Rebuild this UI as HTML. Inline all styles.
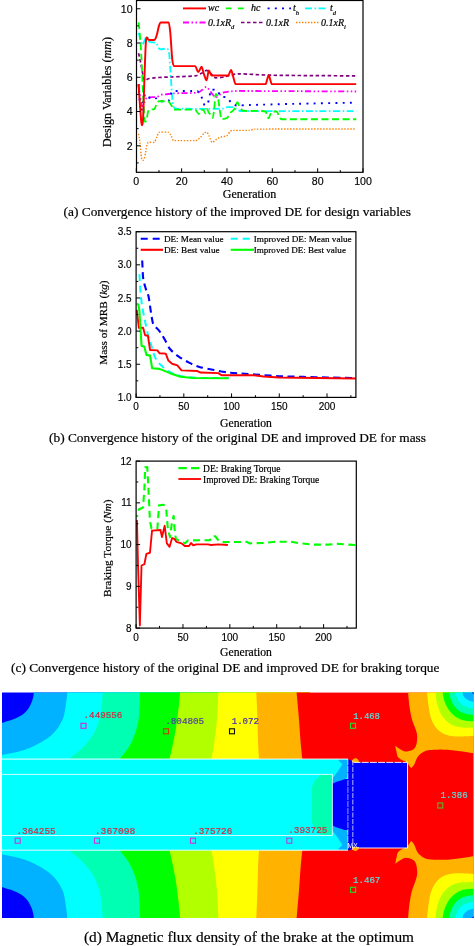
<!DOCTYPE html>
<html><head><meta charset="utf-8"><title>Figure</title>
<style>html,body{margin:0;padding:0;background:#fff}svg{display:block}</style></head>
<body><svg width="475" height="946" viewBox="0 0 475 946">
<rect width="475" height="946" fill="#fff"/>
<g id="chartA">
<path d="M138.57 133.80 C139.02 136.63 139.48 138.71 139.93 142.36 C140.41 146.32 140.99 154.81 141.51 157.78 C142.04 160.75 142.58 160.35 143.10 160.35 C143.66 160.35 144.32 158.47 144.91 156.07 C145.51 153.67 146.17 148.05 146.73 145.79 C147.25 143.68 147.79 142.62 148.32 142.36 C149.59 141.74 153.05 142.87 154.44 142.02 C155.18 141.56 155.95 138.72 156.70 137.22 C157.53 135.59 158.53 132.09 159.42 132.09 C161.29 132.09 166.13 132.09 168.04 132.09 C169.01 132.09 170.05 134.10 170.99 135.51 C171.88 136.87 172.81 140.65 173.71 140.65 C177.71 140.65 190.94 140.65 195.24 140.65 C196.74 140.65 198.28 139.35 199.78 138.08 C201.27 136.81 203.19 133.93 204.31 132.94 C205.06 132.28 205.83 132.09 206.58 132.09 C207.33 132.09 208.10 134.16 208.84 135.51 C209.78 137.21 211.12 142.36 212.24 142.36 C213.37 142.36 214.52 140.52 215.65 139.79 C216.95 138.95 218.68 137.79 220.18 137.22 C222.05 136.52 225.30 136.50 226.98 135.51 C228.10 134.85 229.26 132.08 230.38 131.23 C231.50 130.38 232.66 130.37 233.78 130.37 C236.96 130.37 246.28 130.37 249.65 130.37 C251.15 130.37 252.69 129.19 254.18 129.17 C271.76 128.95 322.53 129.06 356.20 129.00" fill="none" stroke="#ff8000" stroke-width="1.4" stroke-dasharray="1.4 1.6" stroke-linejoin="round"/>
<path d="M138.57 53.29 C139.32 56.68 140.09 59.89 140.83 63.57 C141.58 67.24 142.35 72.73 143.10 75.56 C143.85 78.38 144.62 80.70 145.37 80.70 C146.12 80.70 146.89 79.22 147.64 78.98 C149.13 78.50 152.19 77.99 154.44 77.78 C158.18 77.44 165.07 77.17 170.31 76.93 C177.04 76.62 190.01 76.55 195.24 75.90 C197.49 75.62 200.17 73.89 202.04 72.99 C203.54 72.26 205.08 70.42 206.58 70.42 C208.07 70.42 209.61 72.63 211.11 73.84 C212.61 75.06 214.15 77.78 215.65 77.78 C217.52 77.78 220.20 77.64 222.45 77.27 C224.69 76.90 227.00 76.04 229.25 75.56 C231.87 74.99 235.32 73.84 238.31 73.84 C245.42 73.84 261.10 75.02 272.32 75.21 C291.77 75.55 328.52 75.67 356.20 75.90" fill="none" stroke="#800080" stroke-width="1.7" stroke-dasharray="3.5 2.5" stroke-linejoin="round"/>
<path d="M138.57 85.83 C139.17 89.79 139.78 94.43 140.38 97.83 C140.98 101.22 141.60 106.39 142.19 106.39 C142.83 106.39 143.56 104.25 144.23 102.96 C144.95 101.61 145.75 98.91 146.50 98.17 C147.44 97.24 148.78 97.44 149.90 97.31 C151.59 97.11 154.83 97.39 156.70 96.97 C158.20 96.63 159.74 95.17 161.24 94.74 C162.73 94.32 164.27 94.58 165.77 94.40 C167.64 94.17 170.33 93.49 172.57 93.37 C177.81 93.09 192.65 93.22 197.51 92.69 C199.01 92.52 200.58 91.08 202.04 90.12 C203.46 89.18 205.04 86.86 206.35 86.86 C207.55 86.86 208.82 89.59 209.98 90.97 C211.10 92.31 212.41 94.18 213.38 95.26 C214.20 96.17 215.12 97.48 215.87 97.48 C216.54 97.48 217.24 96.59 217.91 96.11 C218.62 95.60 219.43 94.91 220.18 94.40 C221.00 93.83 222.00 92.93 222.90 92.69 C224.77 92.18 228.97 91.60 231.51 91.32 C233.76 91.07 236.07 90.97 238.31 90.97 C258.89 90.97 317.30 91.32 356.20 91.49" fill="none" stroke="#ff00ff" stroke-width="1.8" stroke-dasharray="6 2.5 1.5 2.5 1.5 2.5" stroke-linejoin="round"/>
<path d="M138.57 32.73 C139.17 34.99 139.78 37.61 140.38 39.58 C140.98 41.56 141.60 44.72 142.19 44.72 C142.83 44.72 143.56 42.54 144.23 41.30 C144.98 39.91 145.91 36.33 146.73 36.33 C147.55 36.33 148.40 41.22 149.22 41.81 C150.76 42.91 154.34 41.82 156.02 43.01 C157.15 43.80 158.30 48.37 159.42 49.01 C161.52 50.19 166.92 46.95 168.72 50.20 C169.24 51.15 169.78 61.77 170.31 68.70 C170.94 77.13 171.82 94.75 172.57 101.25 C173.32 107.75 174.09 107.50 174.84 108.10 C176.34 109.32 179.40 108.55 181.64 108.62 C186.50 108.76 197.58 108.96 204.31 108.96 C210.29 108.96 218.56 108.93 222.45 108.62 C224.24 108.47 226.17 107.08 227.89 107.08 C229.53 107.08 231.42 107.08 232.87 107.08 C234.15 107.08 235.46 109.05 236.73 109.65 C238.19 110.32 240.07 111.19 241.72 111.19 C247.59 111.19 262.22 111.19 272.32 111.19 C291.21 111.19 328.52 111.19 356.20 111.19" fill="none" stroke="#00ffff" stroke-width="1.8" stroke-dasharray="7 2.5 1.5 2.5" stroke-linejoin="round"/>
<path d="M138.57 84.12 C138.94 89.77 139.33 97.48 139.70 101.25 C140.15 105.77 140.76 111.53 141.29 111.53 C141.85 111.53 142.50 103.76 143.10 101.25 C143.77 98.43 144.62 94.40 145.37 94.40 C146.12 94.40 146.89 97.83 147.64 97.83 C149.13 97.83 152.57 96.97 154.44 96.97 C155.93 96.97 157.47 101.25 158.97 101.25 C161.21 101.25 165.79 101.25 168.04 101.25 C169.53 101.25 171.08 90.97 172.57 90.97 C177.43 90.97 193.21 90.97 197.51 90.97 C197.88 90.97 198.27 92.61 198.64 93.20 C199.47 94.50 201.49 96.82 202.50 98.85 C203.24 100.36 204.02 105.53 204.76 105.53 C205.66 105.53 207.15 104.49 207.94 102.96 C208.46 101.95 209.00 98.46 209.52 96.28 C210.05 94.11 210.59 89.77 211.11 89.77 C212.38 89.77 215.66 89.21 217.23 90.29 C218.35 91.06 219.51 95.46 220.63 96.28 C222.28 97.50 225.41 96.55 227.21 97.65 C228.63 98.53 230.09 101.87 231.51 102.96 C233.20 104.27 235.46 105.53 237.41 105.53 C240.40 105.53 245.61 105.14 249.65 105.02 C259.15 104.74 280.03 104.16 294.99 103.82 C312.57 103.43 336.00 103.02 356.20 102.62" fill="none" stroke="#0000ff" stroke-width="1.9" stroke-dasharray="1.9 5.3" stroke-linejoin="round"/>
<path d="M138.57 22.45 C138.94 25.85 139.33 28.26 139.70 32.73 C140.15 38.10 140.76 45.50 141.29 55.00 C141.85 65.18 142.50 83.38 143.10 94.40 C143.70 105.42 144.35 121.81 144.91 121.81 C145.44 121.81 145.98 121.79 146.50 120.09 C147.03 118.40 147.56 113.17 148.09 111.53 C148.65 109.78 149.30 109.72 149.90 109.47 C150.95 109.05 153.31 109.89 154.44 108.96 C155.18 108.34 155.95 105.09 156.70 103.82 C157.45 102.55 158.22 101.25 158.97 101.25 C160.84 101.25 165.98 101.25 168.04 101.25 C169.16 101.25 170.50 104.18 171.44 105.53 C172.19 106.62 172.96 109.34 173.71 109.47 C177.63 110.18 191.09 109.05 195.24 109.82 C196.44 110.04 197.90 114.10 198.87 114.10 C199.62 114.10 200.39 109.82 201.14 109.82 C201.88 109.82 202.73 109.82 203.40 109.82 C204.00 109.82 204.62 113.24 205.22 113.24 C205.82 113.24 206.43 108.96 207.03 108.96 C207.63 108.96 208.25 111.85 208.84 112.73 C209.52 113.72 210.48 114.11 211.11 114.96 C211.63 115.65 212.21 117.87 212.70 117.87 C213.15 117.87 213.61 113.21 214.06 109.82 C214.58 105.86 215.27 93.89 215.87 93.89 C216.47 93.89 217.16 94.67 217.69 96.46 C218.13 97.98 218.60 102.04 219.05 104.68 C219.68 108.41 220.72 119.07 221.54 119.07 C222.85 119.07 225.52 119.09 226.98 118.04 C228.10 117.23 229.26 114.09 230.38 112.73 C231.50 111.37 232.66 111.51 233.78 109.82 C234.94 108.06 236.47 102.11 237.41 102.11 C238.08 102.11 238.78 105.33 239.45 106.39 C240.35 107.80 241.73 110.45 242.85 110.67 C247.15 111.52 261.29 110.26 265.52 111.53 C266.49 111.82 267.53 118.38 268.47 118.38 C269.36 118.38 270.29 113.12 271.19 112.39 C272.57 111.26 275.54 111.53 276.85 111.53 C277.60 111.53 278.37 115.40 279.12 116.67 C279.87 117.94 280.64 119.24 281.39 119.24 C294.11 119.24 331.51 119.24 356.20 119.24" fill="none" stroke="#00ff00" stroke-width="1.8" stroke-dasharray="7 3.5" stroke-linejoin="round"/>
<path d="M138.57 84.12 C138.94 89.77 139.33 96.07 139.70 101.25 C140.15 107.47 140.88 117.85 141.29 121.81 C141.59 124.69 141.89 125.23 142.19 125.23 C142.49 125.23 142.80 124.71 143.10 118.38 C143.48 110.47 144.01 89.71 144.46 77.27 C144.91 64.83 145.41 49.57 145.82 43.01 C146.20 37.05 146.58 37.53 146.95 37.53 C147.44 37.53 148.17 39.93 148.77 39.93 C150.08 39.93 153.58 40.35 154.89 39.58 C155.49 39.24 156.10 37.31 156.70 35.30 C157.38 33.04 158.30 28.00 158.97 25.88 C159.57 24.00 160.19 22.45 160.78 22.45 C162.39 22.45 167.15 22.45 168.72 22.45 C169.24 22.45 169.78 27.29 170.31 32.73 C170.90 38.95 171.67 54.63 172.35 60.14 C173.02 65.65 173.71 66.14 174.39 66.14 C178.16 66.14 191.31 66.14 195.24 66.14 C196.21 66.14 197.22 72.13 198.19 72.13 C199.24 72.13 200.65 66.65 201.59 66.65 C202.34 66.65 203.11 71.79 203.86 73.84 C204.68 76.11 205.75 80.35 206.58 80.35 C207.33 80.35 208.10 70.42 208.84 70.42 C209.67 70.42 210.67 75.56 211.56 75.56 C214.74 75.56 224.90 75.56 228.11 75.56 C229.09 75.56 230.20 70.08 231.06 70.08 C231.81 70.08 232.58 74.95 233.33 77.27 C234.08 79.59 234.85 84.12 235.59 84.12 C240.91 84.12 260.06 84.12 265.52 84.12 C266.57 84.12 267.65 75.21 268.69 75.21 C269.74 75.21 270.82 84.12 271.87 84.12 C286.31 84.12 328.37 84.12 356.20 84.12" fill="none" stroke="#ff0000" stroke-width="1.95" stroke-linejoin="round"/>
<rect x="136.50" y="0.50" width="226.50" height="171.80" fill="none" stroke="#000" stroke-width="1.2"/>
<path d="M136.30 172.30v-4.00 M158.97 172.30v-2.20 M181.64 172.30v-4.00 M204.31 172.30v-2.20 M226.98 172.30v-4.00 M249.65 172.30v-2.20 M272.32 172.30v-4.00 M294.99 172.30v-2.20 M317.66 172.30v-4.00 M340.33 172.30v-2.20 M363.00 172.30v-4.00 M136.50 162.92h2.20 M136.50 145.79h4.00 M136.50 128.66h2.20 M136.50 111.53h4.00 M136.50 94.40h2.20 M136.50 77.27h4.00 M136.50 60.14h2.20 M136.50 43.01h4.00 M136.50 25.88h2.20 M136.50 8.75h4.00" stroke="#000" stroke-width="1" fill="none"/>
<text x="136.30" y="184.5" font-family="Liberation Sans, sans-serif" stroke="#000" stroke-width="0.15" font-size="10.6" text-anchor="middle">0</text>
<text x="181.64" y="184.5" font-family="Liberation Sans, sans-serif" stroke="#000" stroke-width="0.15" font-size="10.6" text-anchor="middle">20</text>
<text x="226.98" y="184.5" font-family="Liberation Sans, sans-serif" stroke="#000" stroke-width="0.15" font-size="10.6" text-anchor="middle">40</text>
<text x="272.32" y="184.5" font-family="Liberation Sans, sans-serif" stroke="#000" stroke-width="0.15" font-size="10.6" text-anchor="middle">60</text>
<text x="317.66" y="184.5" font-family="Liberation Sans, sans-serif" stroke="#000" stroke-width="0.15" font-size="10.6" text-anchor="middle">80</text>
<text x="363.00" y="184.5" font-family="Liberation Sans, sans-serif" stroke="#000" stroke-width="0.15" font-size="10.6" text-anchor="middle">100</text>
<text x="132.6" y="149.59" font-family="Liberation Sans, sans-serif" stroke="#000" stroke-width="0.15" font-size="10.6" text-anchor="end">2</text>
<text x="132.6" y="115.33" font-family="Liberation Sans, sans-serif" stroke="#000" stroke-width="0.15" font-size="10.6" text-anchor="end">4</text>
<text x="132.6" y="81.07" font-family="Liberation Sans, sans-serif" stroke="#000" stroke-width="0.15" font-size="10.6" text-anchor="end">6</text>
<text x="132.6" y="46.81" font-family="Liberation Sans, sans-serif" stroke="#000" stroke-width="0.15" font-size="10.6" text-anchor="end">8</text>
<text x="132.6" y="12.55" font-family="Liberation Sans, sans-serif" stroke="#000" stroke-width="0.15" font-size="10.6" text-anchor="end">10</text>
<text x="249.5" y="198" font-family="Liberation Serif, serif" stroke="#000" stroke-width="0.2" font-size="12" text-anchor="middle">Generation</text>
<text transform="translate(110.6 92) rotate(-90)" font-family="Liberation Serif, serif" stroke="#000" stroke-width="0.2" font-size="12" text-anchor="middle">Design Variables (<tspan font-style="italic">mm</tspan>)</text>
<path d="M183.00 8.40H206.00" stroke="#ff0000" stroke-width="1.9" fill="none"/>
<text x="208.00" y="11.40" font-family="Liberation Serif, serif" stroke="#000" stroke-width="0.2" font-size="10" font-style="italic">wc</text>
<path d="M225.80 8.40H243.70" stroke="#00ff00" stroke-width="1.9" stroke-dasharray="5.6 6.7" fill="none"/>
<text x="251.00" y="11.40" font-family="Liberation Serif, serif" stroke="#000" stroke-width="0.2" font-size="10" font-style="italic">hc</text>
<path d="M267.60 8.40H291.00" stroke="#0000ff" stroke-width="1.9" stroke-dasharray="2 5.2" fill="none"/>
<text x="293.00" y="11.40" font-family="Liberation Serif, serif" stroke="#000" stroke-width="0.2" font-size="10" font-style="italic">t<tspan font-size="6.5" dy="3.6">h</tspan></text>
<path d="M305.00 8.40H328.00" stroke="#00ffff" stroke-width="1.8" stroke-dasharray="7 2.5 1.5 2.5" fill="none"/>
<text x="330.00" y="11.40" font-family="Liberation Serif, serif" stroke="#000" stroke-width="0.2" font-size="10" font-style="italic">t<tspan font-size="6.5" dy="3.6">d</tspan></text>
<path d="M183.00 22.50H206.00" stroke="#ff00ff" stroke-width="1.8" stroke-dasharray="6 2.5 1.5 2.5 1.5 2.5" fill="none"/>
<text x="208.00" y="25.50" font-family="Liberation Serif, serif" stroke="#000" stroke-width="0.2" font-size="10" font-style="italic">0.1xR<tspan font-size="6.5" dy="3.6">d</tspan></text>
<path d="M241.00 22.50H264.00" stroke="#800080" stroke-width="1.7" stroke-dasharray="3.5 2.5" fill="none"/>
<text x="266.00" y="25.50" font-family="Liberation Serif, serif" stroke="#000" stroke-width="0.2" font-size="10" font-style="italic">0.1xR</text>
<path d="M296.00 22.50H319.00" stroke="#ff8000" stroke-width="1.4" stroke-dasharray="1.4 1.6" fill="none"/>
<text x="321.00" y="25.50" font-family="Liberation Serif, serif" stroke="#000" stroke-width="0.2" font-size="10" font-style="italic">0.1xR<tspan font-size="6.5" dy="3.6">i</tspan></text>
</g>
<g id="chartB">
<path d="M142.21 260.53 C142.49 266.11 142.78 275.22 143.07 277.43 C143.67 282.11 144.94 285.78 145.84 288.90 C146.72 291.96 147.64 292.31 148.51 296.32 C149.36 300.26 150.31 308.69 151.09 313.22 C151.78 317.30 152.49 322.35 153.19 323.83 C154.57 326.78 157.58 328.54 159.49 331.12 C161.22 333.47 163.00 336.52 164.73 339.47 C166.47 342.42 168.25 346.88 169.98 349.02 C172.24 351.79 175.61 354.32 178.38 356.31 C181.52 358.55 185.50 360.85 188.98 362.60 C192.44 364.34 196.01 365.89 199.48 366.91 C203.64 368.14 209.33 369.10 214.18 370.03 C219.04 370.96 224.53 371.97 228.97 372.54 C232.97 373.07 237.09 373.24 241.09 373.54 C245.46 373.87 250.69 374.21 255.41 374.53 C261.71 374.97 271.40 375.81 279.27 376.19 C287.15 376.57 295.26 376.63 303.14 376.85 C311.01 377.07 319.13 377.34 327.00 377.52 C335.66 377.71 346.19 377.87 355.63 378.05" fill="none" stroke="#0000ff" stroke-width="2.1" stroke-dasharray="7 4.5" stroke-linejoin="round"/>
<path d="M139.44 274.12 C139.79 280.02 140.14 287.95 140.49 292.01 C140.95 297.37 141.64 302.88 142.21 306.60 C142.90 311.13 143.87 315.54 144.69 319.52 C145.64 324.11 146.88 330.28 147.94 334.43 C148.98 338.53 150.05 341.38 151.09 344.71 C152.28 348.54 153.84 354.91 155.19 357.63 C156.92 361.11 159.47 363.70 161.59 365.78 C164.03 368.19 167.21 370.73 169.98 372.21 C173.10 373.89 177.02 375.13 180.48 375.93 C184.31 376.80 188.99 377.20 193.18 377.52 C197.67 377.86 202.90 377.98 207.69 377.98 C213.55 377.98 221.76 377.98 228.69 377.98" fill="none" stroke="#00ffff" stroke-width="2.0" stroke-dasharray="7 4.5" stroke-linejoin="round"/>
<path d="M136.77 309.91 L138.87 327.81 L143.07 327.81 L145.17 335.30 L147.94 335.76 L150.04 350.01 L157.39 350.34 L159.49 353.19 L165.78 353.66 L168.36 360.55 L172.08 363.73 L177.33 365.39 L181.53 370.42 L197.38 371.02 L200.53 372.54 L218.38 373.14 L221.53 375.26 L253.50 375.26 L263.62 376.52 L279.27 377.52 L317.45 378.05 L355.63 378.51" fill="none" stroke="#ff0000" stroke-width="1.9" stroke-linejoin="round"/>
<path d="M136.77 303.68 L138.39 304.61 L139.44 311.24 L141.54 345.70 L144.31 346.83 L146.41 354.85 L150.04 355.64 L152.14 368.24 L159.49 368.90 L169.98 373.14 L180.48 376.72 L193.18 377.98 L228.69 378.18" fill="none" stroke="#00ff00" stroke-width="2.1" stroke-linejoin="round"/>
<rect x="136.10" y="231.70" width="219.80" height="165.70" fill="none" stroke="#000" stroke-width="1.2"/>
<path d="M136.10 397.40v-4.00 M159.96 397.40v-2.20 M183.82 397.40v-4.00 M207.69 397.40v-2.20 M231.55 397.40v-4.00 M255.41 397.40v-2.20 M279.27 397.40v-4.00 M303.14 397.40v-2.20 M327.00 397.40v-4.00 M350.86 397.40v-2.20 M136.10 397.40h4.00 M136.10 380.83h2.20 M136.10 364.26h4.00 M136.10 347.69h2.20 M136.10 331.12h4.00 M136.10 314.55h2.20 M136.10 297.98h4.00 M136.10 281.41h2.20 M136.10 264.84h4.00 M136.10 248.27h2.20 M136.10 231.70h4.00" stroke="#000" stroke-width="1" fill="none"/>
<text x="136.10" y="410" font-family="Liberation Sans, sans-serif" stroke="#000" stroke-width="0.15" font-size="10" text-anchor="middle">0</text>
<text x="183.82" y="410" font-family="Liberation Sans, sans-serif" stroke="#000" stroke-width="0.15" font-size="10" text-anchor="middle">50</text>
<text x="231.55" y="410" font-family="Liberation Sans, sans-serif" stroke="#000" stroke-width="0.15" font-size="10" text-anchor="middle">100</text>
<text x="279.27" y="410" font-family="Liberation Sans, sans-serif" stroke="#000" stroke-width="0.15" font-size="10" text-anchor="middle">150</text>
<text x="327.00" y="410" font-family="Liberation Sans, sans-serif" stroke="#000" stroke-width="0.15" font-size="10" text-anchor="middle">200</text>
<text x="131.6" y="401.00" font-family="Liberation Sans, sans-serif" stroke="#000" stroke-width="0.15" font-size="10" text-anchor="end">1.0</text>
<text x="131.6" y="367.86" font-family="Liberation Sans, sans-serif" stroke="#000" stroke-width="0.15" font-size="10" text-anchor="end">1.5</text>
<text x="131.6" y="334.72" font-family="Liberation Sans, sans-serif" stroke="#000" stroke-width="0.15" font-size="10" text-anchor="end">2.0</text>
<text x="131.6" y="301.58" font-family="Liberation Sans, sans-serif" stroke="#000" stroke-width="0.15" font-size="10" text-anchor="end">2.5</text>
<text x="131.6" y="268.44" font-family="Liberation Sans, sans-serif" stroke="#000" stroke-width="0.15" font-size="10" text-anchor="end">3.0</text>
<text x="131.6" y="235.30" font-family="Liberation Sans, sans-serif" stroke="#000" stroke-width="0.15" font-size="10" text-anchor="end">3.5</text>
<text x="246" y="426.7" font-family="Liberation Serif, serif" stroke="#000" stroke-width="0.2" font-size="11.7" text-anchor="middle">Generation</text>
<text transform="translate(106.6 322.6) rotate(-90)" font-family="Liberation Serif, serif" stroke="#000" stroke-width="0.2" font-size="11.2" text-anchor="middle">Mass of MRB (<tspan font-style="italic">kg</tspan>)</text>
<path d="M140.70 238.70H160.00" stroke="#0000ff" stroke-width="2.1" stroke-dasharray="7 5" fill="none"/>
<text x="163.90" y="241.70" font-family="Liberation Serif, serif" stroke="#000" stroke-width="0.2" font-size="9.2" textLength="59.60" lengthAdjust="spacingAndGlyphs">DE: Mean value</text>
<path d="M230.70 238.70H250.00" stroke="#00ffff" stroke-width="2.1" stroke-dasharray="7 5" fill="none"/>
<text x="253.80" y="241.70" font-family="Liberation Serif, serif" stroke="#000" stroke-width="0.2" font-size="9.2" textLength="97.90" lengthAdjust="spacingAndGlyphs">Improved DE: Mean value</text>
<path d="M140.70 249.80H163.00" stroke="#ff0000" stroke-width="2.1" fill="none"/>
<text x="163.90" y="252.80" font-family="Liberation Serif, serif" stroke="#000" stroke-width="0.2" font-size="9.2" textLength="55.70" lengthAdjust="spacingAndGlyphs">DE: Best value</text>
<path d="M230.70 249.80H254.00" stroke="#00ff00" stroke-width="2.1" fill="none"/>
<text x="253.80" y="252.80" font-family="Liberation Serif, serif" stroke="#000" stroke-width="0.2" font-size="9.2" textLength="92.10" lengthAdjust="spacingAndGlyphs">Improved DE: Best value</text>
</g>
<g id="chartC">
<path d="M136.94 517.05 L138.82 509.53 L143.04 507.44 L144.35 489.49 L145.19 467.36 L147.26 466.95 L148.47 489.49 L149.97 521.22 L151.47 528.53 L157.38 528.53 L159.07 505.36 L163.66 504.73 L166.19 508.70 L167.88 529.57 L170.04 537.09 L172.10 521.22 L173.60 515.92 L174.63 529.57 L175.85 539.17 L182.60 541.80 L185.13 543.35 L187.85 540.43 L209.97 540.13 L212.04 536.25 L215.22 536.25 L218.41 540.43 L220.47 542.10 L246.72 541.89 L249.54 543.35 L262.66 542.93 L276.73 541.68 L290.79 541.68 L300.16 543.35 L314.23 544.60 L328.29 544.60 L337.66 543.77 L347.04 544.60 L356.41 545.02" fill="none" stroke="#00ff00" stroke-width="2.1" stroke-dasharray="7 4.5" stroke-dashoffset="5" stroke-linejoin="round"/>
<path d="M136.94 520.09 L137.97 563.39 L139.85 625.39 L141.54 565.48 L144.35 564.22 L146.41 553.79 L149.97 552.74 L152.04 530.61 L160.47 529.99 L161.97 537.09 L164.69 525.81 L166.85 543.35 L169.57 546.81 L172.10 538.00 L174.63 539.17 L176.32 541.80 L181.57 543.35 L184.76 545.98 L188.97 545.98 L191.04 542.93 L193.19 545.43 L196.29 544.31 L207.91 544.31 L211.10 545.02 L218.41 544.31 L227.88 545.02" fill="none" stroke="#ff0000" stroke-width="1.85" stroke-linejoin="round"/>
<rect x="136.10" y="461.10" width="220.20" height="167.00" fill="none" stroke="#000" stroke-width="1.2"/>
<path d="M136.10 628.10v-4.00 M159.54 628.10v-2.20 M182.97 628.10v-4.00 M206.41 628.10v-2.20 M229.85 628.10v-4.00 M253.29 628.10v-2.20 M276.73 628.10v-4.00 M300.16 628.10v-2.20 M323.60 628.10v-4.00 M347.04 628.10v-2.20 M136.10 628.10h4.00 M136.10 607.23h2.20 M136.10 586.35h4.00 M136.10 565.48h2.20 M136.10 544.60h4.00 M136.10 523.73h2.20 M136.10 502.85h4.00 M136.10 481.98h2.20 M136.10 461.10h4.00" stroke="#000" stroke-width="1" fill="none"/>
<text x="136.10" y="641" font-family="Liberation Sans, sans-serif" stroke="#000" stroke-width="0.15" font-size="10" text-anchor="middle">0</text>
<text x="182.97" y="641" font-family="Liberation Sans, sans-serif" stroke="#000" stroke-width="0.15" font-size="10" text-anchor="middle">50</text>
<text x="229.85" y="641" font-family="Liberation Sans, sans-serif" stroke="#000" stroke-width="0.15" font-size="10" text-anchor="middle">100</text>
<text x="276.73" y="641" font-family="Liberation Sans, sans-serif" stroke="#000" stroke-width="0.15" font-size="10" text-anchor="middle">150</text>
<text x="323.60" y="641" font-family="Liberation Sans, sans-serif" stroke="#000" stroke-width="0.15" font-size="10" text-anchor="middle">200</text>
<text x="131.6" y="631.70" font-family="Liberation Sans, sans-serif" stroke="#000" stroke-width="0.15" font-size="10" text-anchor="end">8</text>
<text x="131.6" y="589.95" font-family="Liberation Sans, sans-serif" stroke="#000" stroke-width="0.15" font-size="10" text-anchor="end">9</text>
<text x="131.6" y="548.20" font-family="Liberation Sans, sans-serif" stroke="#000" stroke-width="0.15" font-size="10" text-anchor="end">10</text>
<text x="131.6" y="506.45" font-family="Liberation Sans, sans-serif" stroke="#000" stroke-width="0.15" font-size="10" text-anchor="end">11</text>
<text x="131.6" y="464.70" font-family="Liberation Sans, sans-serif" stroke="#000" stroke-width="0.15" font-size="10" text-anchor="end">12</text>
<text x="246" y="656" font-family="Liberation Serif, serif" stroke="#000" stroke-width="0.2" font-size="11.7" text-anchor="middle">Generation</text>
<text transform="translate(111 548.2) rotate(-90)" font-family="Liberation Serif, serif" stroke="#000" stroke-width="0.2" font-size="11.4" text-anchor="middle">Braking Torque (<tspan font-style="italic">Nm</tspan>)</text>
<path d="M178.4 468.1H199.5" stroke="#00ff00" stroke-width="2.1" stroke-dasharray="8.4 4.2" fill="none"/>
<text x="203" y="471.8" font-family="Liberation Serif, serif" stroke="#000" stroke-width="0.2" font-size="9.5" textLength="77.5" lengthAdjust="spacingAndGlyphs">DE: Braking Torque</text>
<path d="M178.4 479H201" stroke="#ff0000" stroke-width="1.85" fill="none"/>
<text x="203" y="483" font-family="Liberation Serif, serif" stroke="#000" stroke-width="0.2" font-size="9.5" textLength="116.2" lengthAdjust="spacingAndGlyphs">Improved DE: Braking Torque</text>
</g>
<g id="chartD">
<rect x="300.00" y="692.60" width="173.60" height="225.40" fill="#ff0000"/>
<polygon points="2.00,692.60 310.00,692.60 310.00,759.07 2.00,759.07" fill="#0000ff"/>
<polygon points="2.00,918.00 310.00,918.00 310.00,850.20 2.00,850.20" fill="#0000ff"/>
<polygon points="33.80,692.60 33.76,692.98 33.71,693.47 33.65,694.05 33.59,694.71 33.50,695.41 33.40,696.14 33.26,696.88 33.10,697.60 32.91,698.32 32.69,699.08 32.46,699.86 32.19,700.66 31.91,701.47 31.60,702.29 31.26,703.10 30.90,703.90 30.51,704.70 30.10,705.53 29.67,706.35 29.21,707.18 28.73,708.00 28.21,708.80 27.67,709.57 27.10,710.30 26.50,711.00 25.87,711.68 25.22,712.33 24.54,712.96 23.83,713.57 23.08,714.17 22.31,714.74 21.50,715.30 20.65,715.84 19.74,716.36 18.80,716.87 17.82,717.36 16.84,717.82 15.85,718.27 14.86,718.70 13.90,719.10 12.93,719.48 11.92,719.84 10.90,720.19 9.89,720.51 8.91,720.81 7.97,721.09 7.09,721.35 6.30,721.60 5.58,721.83 4.89,722.04 4.26,722.23 3.67,722.41 3.15,722.56 2.70,722.69 2.31,722.81 2.00,722.90 2.00,759.07 310.00,759.07 310.00,692.60" fill="#00b2ff"/>
<polygon points="33.80,918.00 33.76,917.62 33.71,917.11 33.65,916.52 33.59,915.85 33.50,915.13 33.40,914.39 33.26,913.64 33.10,912.90 32.91,912.16 32.69,911.39 32.46,910.59 32.19,909.78 31.91,908.95 31.60,908.12 31.26,907.29 30.90,906.47 30.51,905.65 30.10,904.82 29.67,903.97 29.21,903.13 28.73,902.29 28.21,901.48 27.67,900.69 27.10,899.95 26.50,899.23 25.87,898.54 25.22,897.88 24.54,897.23 23.83,896.61 23.08,896.00 22.31,895.42 21.50,894.85 20.65,894.29 19.74,893.76 18.80,893.24 17.82,892.75 16.84,892.27 15.85,891.82 14.86,891.38 13.90,890.97 12.93,890.58 11.92,890.21 10.90,889.86 9.89,889.54 8.91,889.23 7.97,888.94 7.09,888.67 6.30,888.42 5.58,888.19 4.89,887.97 4.26,887.77 3.67,887.60 3.15,887.44 2.70,887.30 2.31,887.19 2.00,887.09 2.00,850.20 310.00,850.20 310.00,918.00" fill="#00b2ff"/>
<polygon points="67.30,692.60 67.27,692.98 67.24,693.40 67.21,693.90 67.17,694.50 67.11,695.23 67.01,696.12 66.88,697.20 66.70,698.50 66.47,700.14 66.18,702.16 65.85,704.42 65.50,706.82 65.13,709.22 64.75,711.52 64.37,713.58 64.00,715.30 63.64,716.67 63.29,717.80 62.93,718.74 62.57,719.56 62.20,720.29 61.81,720.99 61.42,721.71 61.00,722.50 60.58,723.33 60.16,724.13 59.74,724.91 59.30,725.68 58.84,726.45 58.34,727.22 57.80,728.00 57.20,728.80 56.55,729.63 55.84,730.48 55.09,731.35 54.31,732.22 53.50,733.09 52.68,733.93 51.84,734.74 51.00,735.50 50.16,736.22 49.30,736.90 48.42,737.55 47.53,738.18 46.62,738.79 45.70,739.40 44.76,740.00 43.80,740.60 42.82,741.20 41.81,741.80 40.78,742.40 39.74,742.98 38.68,743.56 37.62,744.12 36.56,744.67 35.50,745.20 34.44,745.72 33.38,746.23 32.31,746.73 31.24,747.22 30.16,747.69 29.08,748.15 27.99,748.58 26.90,749.00 25.80,749.40 24.67,749.78 23.54,750.14 22.41,750.48 21.28,750.81 20.16,751.12 19.07,751.42 18.00,751.70 16.97,751.96 15.96,752.20 14.97,752.42 14.00,752.62 13.03,752.81 12.07,753.01 11.09,753.20 10.10,753.40 9.04,753.62 7.90,753.84 6.72,754.08 5.56,754.31 4.45,754.52 3.46,754.71 2.63,754.88 2.00,755.00 2.00,759.07 310.00,759.07 310.00,692.60" fill="#00ffff"/>
<polygon points="67.30,918.00 67.27,917.61 67.24,917.18 67.21,916.67 67.17,916.06 67.11,915.32 67.01,914.41 66.88,913.31 66.70,911.98 66.47,910.31 66.18,908.25 65.85,905.94 65.50,903.50 65.13,901.04 64.75,898.70 64.37,896.60 64.00,894.85 63.64,893.45 63.29,892.30 62.93,891.33 62.57,890.50 62.20,889.76 61.81,889.04 61.42,888.31 61.00,887.50 60.58,886.66 60.16,885.84 59.74,885.04 59.30,884.26 58.84,883.48 58.34,882.69 57.80,881.89 57.20,881.08 56.55,880.23 55.84,879.36 55.09,878.47 54.31,877.58 53.50,876.70 52.68,875.85 51.84,875.02 51.00,874.24 50.16,873.51 49.30,872.81 48.42,872.15 47.53,871.51 46.62,870.88 45.70,870.27 44.76,869.65 43.80,869.04 42.82,868.42 41.81,867.81 40.78,867.21 39.74,866.61 38.68,866.03 37.62,865.45 36.56,864.89 35.50,864.35 34.44,863.82 33.38,863.30 32.31,862.79 31.24,862.29 30.16,861.81 29.08,861.34 27.99,860.90 26.90,860.47 25.80,860.07 24.67,859.68 23.54,859.31 22.41,858.96 21.28,858.63 20.16,858.31 19.07,858.01 18.00,857.72 16.97,857.45 15.96,857.21 14.97,856.99 14.00,856.78 13.03,856.58 12.07,856.39 11.09,856.19 10.10,855.98 9.04,855.76 7.90,855.53 6.72,855.29 5.56,855.06 4.45,854.84 3.46,854.64 2.63,854.48 2.00,854.35 2.00,850.20 310.00,850.20 310.00,918.00" fill="#00ffff"/>
<polygon points="102.70,692.60 102.65,693.32 102.58,694.27 102.50,695.41 102.41,696.68 102.32,698.02 102.21,699.39 102.11,700.73 102.00,702.00 101.90,703.23 101.79,704.49 101.69,705.77 101.58,707.06 101.46,708.33 101.33,709.59 101.17,710.82 101.00,712.00 100.80,713.14 100.59,714.24 100.37,715.31 100.12,716.36 99.87,717.39 99.59,718.42 99.30,719.46 99.00,720.50 98.68,721.55 98.34,722.61 97.98,723.68 97.61,724.73 97.23,725.78 96.83,726.81 96.42,727.82 96.00,728.80 95.57,729.76 95.13,730.70 94.67,731.62 94.21,732.53 93.73,733.42 93.23,734.30 92.72,735.16 92.20,736.00 91.66,736.83 91.09,737.64 90.50,738.43 89.91,739.21 89.30,739.98 88.70,740.73 88.09,741.47 87.50,742.20 86.92,742.92 86.34,743.62 85.77,744.31 85.19,744.99 84.61,745.65 84.02,746.31 83.42,746.96 82.80,747.60 82.18,748.22 81.57,748.80 80.96,749.36 80.33,749.92 79.68,750.49 78.98,751.08 78.22,751.71 77.40,752.40 76.44,753.19 75.31,754.09 74.10,755.06 72.86,756.03 71.67,756.98 70.58,757.83 69.67,758.54 69.00,759.07 310.00,759.07 310.00,692.60" fill="#00ffb2"/>
<polygon points="102.70,918.00 102.65,917.26 102.58,916.29 102.50,915.13 102.41,913.84 102.32,912.47 102.21,911.08 102.11,909.71 102.00,908.41 101.90,907.16 101.79,905.87 101.69,904.56 101.58,903.25 101.46,901.95 101.33,900.67 101.17,899.42 101.00,898.21 100.80,897.05 100.59,895.93 100.37,894.84 100.12,893.77 99.87,892.71 99.59,891.66 99.30,890.61 99.00,889.54 98.68,888.47 98.34,887.38 97.98,886.30 97.61,885.23 97.23,884.16 96.83,883.11 96.42,882.08 96.00,881.08 95.57,880.10 95.13,879.14 94.67,878.19 94.21,877.27 93.73,876.36 93.23,875.47 92.72,874.59 92.20,873.73 91.66,872.89 91.09,872.06 90.50,871.25 89.91,870.46 89.30,869.67 88.70,868.91 88.09,868.15 87.50,867.41 86.92,866.68 86.34,865.96 85.77,865.26 85.19,864.56 84.61,863.88 84.02,863.21 83.42,862.55 82.80,861.90 82.18,861.27 81.57,860.68 80.96,860.10 80.33,859.53 79.68,858.95 78.98,858.35 78.22,857.70 77.40,857.00 76.44,856.20 75.31,855.28 74.10,854.29 72.86,853.30 71.67,852.34 70.58,851.47 69.67,850.74 69.00,850.20 310.00,850.20 310.00,918.00" fill="#00ffb2"/>
<polygon points="139.90,692.60 139.88,693.55 139.86,694.80 139.84,696.28 139.81,697.94 139.77,699.71 139.72,701.52 139.67,703.30 139.60,705.00 139.53,706.67 139.45,708.41 139.36,710.19 139.27,711.98 139.16,713.75 139.03,715.48 138.88,717.14 138.70,718.70 138.50,720.15 138.27,721.52 138.03,722.83 137.76,724.09 137.48,725.32 137.17,726.53 136.85,727.75 136.50,729.00 136.12,730.28 135.70,731.59 135.26,732.91 134.80,734.21 134.33,735.48 133.87,736.70 133.42,737.85 133.00,738.90 132.61,739.85 132.23,740.70 131.87,741.48 131.51,742.21 131.15,742.91 130.79,743.59 130.41,744.28 130.00,745.00 129.59,745.71 129.20,746.39 128.80,747.05 128.39,747.71 127.95,748.38 127.46,749.10 126.92,749.86 126.30,750.70 125.55,751.68 124.66,752.80 123.68,754.01 122.67,755.24 121.69,756.43 120.79,757.50 120.05,758.41 119.50,759.07 310.00,759.07 310.00,692.60" fill="#00ff00"/>
<polygon points="139.90,918.00 139.88,917.03 139.86,915.76 139.84,914.24 139.81,912.55 139.77,910.75 139.72,908.90 139.67,907.08 139.60,905.35 139.53,903.64 139.45,901.87 139.36,900.06 139.27,898.23 139.16,896.42 139.03,894.66 138.88,892.97 138.70,891.38 138.50,889.90 138.27,888.50 138.03,887.17 137.76,885.88 137.48,884.63 137.17,883.39 136.85,882.14 136.50,880.87 136.12,879.56 135.70,878.23 135.26,876.89 134.80,875.56 134.33,874.26 133.87,873.02 133.42,871.85 133.00,870.77 132.61,869.81 132.23,868.94 131.87,868.14 131.51,867.40 131.15,866.69 130.79,865.99 130.41,865.28 130.00,864.55 129.59,863.82 129.20,863.13 128.80,862.46 128.39,861.79 127.95,861.10 127.46,860.37 126.92,859.59 126.30,858.74 125.55,857.74 124.66,856.60 123.68,855.36 122.67,854.11 121.69,852.90 120.79,851.80 120.05,850.88 119.50,850.20 310.00,850.20 310.00,918.00" fill="#00ff00"/>
<polygon points="180.00,692.60 179.91,693.64 179.79,695.02 179.66,696.67 179.50,698.51 179.33,700.44 179.16,702.39 178.98,704.27 178.80,706.00 178.62,707.64 178.42,709.28 178.22,710.92 178.01,712.54 177.80,714.14 177.60,715.71 177.39,717.23 177.20,718.70 177.02,720.11 176.85,721.45 176.68,722.76 176.52,724.03 176.35,725.27 176.18,726.51 176.00,727.75 175.80,729.00 175.59,730.26 175.36,731.50 175.13,732.73 174.89,733.96 174.65,735.19 174.40,736.42 174.15,737.66 173.90,738.90 173.65,740.15 173.39,741.41 173.14,742.67 172.88,743.94 172.61,745.21 172.34,746.47 172.07,747.74 171.80,749.00 171.51,750.33 171.19,751.76 170.85,753.22 170.52,754.67 170.20,756.03 169.92,757.26 169.68,758.29 169.50,759.07 310.00,759.07 310.00,692.60" fill="#b2ff00"/>
<polygon points="180.00,918.00 179.91,916.94 179.79,915.53 179.66,913.84 179.50,911.98 179.33,910.01 179.16,908.02 178.98,906.10 178.80,904.33 178.62,902.66 178.42,900.99 178.22,899.31 178.01,897.66 177.80,896.03 177.60,894.43 177.39,892.88 177.20,891.38 177.02,889.94 176.85,888.57 176.68,887.24 176.52,885.95 176.35,884.67 176.18,883.41 176.00,882.15 175.80,880.87 175.59,879.59 175.36,878.32 175.13,877.06 174.89,875.81 174.65,874.56 174.40,873.30 174.15,872.04 173.90,870.77 173.65,869.50 173.39,868.21 173.14,866.92 172.88,865.63 172.61,864.34 172.34,863.05 172.07,861.76 171.80,860.47 171.51,859.12 171.19,857.66 170.85,856.17 170.52,854.69 170.20,853.30 169.92,852.05 169.68,850.99 169.50,850.20 310.00,850.20 310.00,918.00" fill="#b2ff00"/>
<polygon points="218.30,692.60 218.26,693.64 218.22,695.02 218.16,696.67 218.10,698.51 218.03,700.44 217.96,702.39 217.88,704.27 217.80,706.00 217.72,707.63 217.63,709.26 217.54,710.88 217.44,712.48 217.34,714.07 217.24,715.64 217.12,717.18 217.00,718.70 216.87,720.17 216.74,721.61 216.59,723.01 216.44,724.39 216.29,725.77 216.13,727.16 215.97,728.56 215.80,730.00 215.63,731.49 215.44,733.02 215.26,734.58 215.06,736.14 214.87,737.69 214.68,739.19 214.48,740.64 214.30,742.00 214.12,743.27 213.95,744.48 213.78,745.64 213.61,746.75 213.44,747.82 213.26,748.89 213.08,749.94 212.90,751.00 212.70,752.11 212.48,753.27 212.24,754.45 212.01,755.60 211.79,756.68 211.59,757.64 211.42,758.45 211.30,759.07 310.00,759.07 310.00,692.60" fill="#ffff00"/>
<polygon points="218.30,918.00 218.26,916.94 218.22,915.53 218.16,913.84 218.10,911.98 218.03,910.01 217.96,908.02 217.88,906.10 217.80,904.33 217.72,902.67 217.63,901.01 217.54,899.36 217.44,897.72 217.34,896.10 217.24,894.50 217.12,892.92 217.00,891.38 216.87,889.87 216.74,888.41 216.59,886.98 216.44,885.57 216.29,884.16 216.13,882.75 215.97,881.32 215.80,879.85 215.63,878.34 215.44,876.77 215.26,875.18 215.06,873.59 214.87,872.01 214.68,870.47 214.48,869.00 214.30,867.61 214.12,866.31 213.95,865.08 213.78,863.90 213.61,862.77 213.44,861.67 213.26,860.59 213.08,859.51 212.90,858.43 212.70,857.30 212.48,856.11 212.24,854.91 212.01,853.74 211.79,852.64 211.59,851.66 211.42,850.83 211.30,850.20 310.00,850.20 310.00,918.00" fill="#ffff00"/>
<polygon points="256.30,692.60 256.35,693.64 256.41,695.02 256.49,696.67 256.57,698.51 256.66,700.44 256.74,702.39 256.83,704.27 256.90,706.00 256.97,707.55 257.03,708.98 257.09,710.35 257.15,711.73 257.21,713.19 257.27,714.80 257.33,716.61 257.40,718.70 257.47,721.15 257.53,723.93 257.60,726.93 257.67,730.08 257.74,733.25 257.82,736.36 257.91,739.31 258.00,742.00 258.11,744.55 258.25,747.11 258.39,749.61 258.54,751.99 258.68,754.19 258.81,756.15 258.92,757.80 259.00,759.07 310.00,759.07 310.00,692.60" fill="#ffb200"/>
<polygon points="256.30,918.00 256.35,916.94 256.41,915.53 256.49,913.84 256.57,911.98 256.66,910.01 256.74,908.02 256.83,906.10 256.90,904.33 256.97,902.75 257.03,901.30 257.09,899.90 257.15,898.49 257.21,897.00 257.27,895.36 257.33,893.51 257.40,891.38 257.47,888.88 257.53,886.05 257.60,882.98 257.67,879.77 257.74,876.53 257.82,873.36 257.91,870.35 258.00,867.61 258.11,865.01 258.25,862.40 258.39,859.85 258.54,857.42 258.68,855.18 258.81,853.18 258.92,851.50 259.00,850.20 310.00,850.20 310.00,918.00" fill="#ffb200"/>
<polygon points="296.60,692.60 296.78,694.63 297.03,697.36 297.32,700.60 297.64,704.19 297.98,707.97 298.31,711.76 298.63,715.39 298.90,718.70 299.14,721.79 299.37,724.87 299.58,727.92 299.79,730.91 299.99,733.84 300.19,736.68 300.39,739.40 300.60,742.00 300.82,744.55 301.06,747.11 301.31,749.61 301.56,751.99 301.79,754.19 301.99,756.15 302.17,757.80 302.30,759.07 310.00,759.07 310.00,692.60" fill="#ff0000"/>
<polygon points="296.60,918.00 296.78,915.93 297.03,913.15 297.32,909.84 297.64,906.17 297.98,902.32 298.31,898.46 298.63,894.75 298.90,891.38 299.14,888.23 299.37,885.09 299.58,881.98 299.79,878.92 299.99,875.93 300.19,873.04 300.39,870.26 300.60,867.61 300.82,865.01 301.06,862.40 301.31,859.85 301.56,857.42 301.79,855.18 301.99,853.18 302.17,851.50 302.30,850.20 310.00,850.20 310.00,918.00" fill="#ff0000"/>
<polygon points="408.10,692.60 408.18,693.57 408.29,694.84 408.40,696.36 408.54,698.06 408.70,699.86 408.88,701.69 409.08,703.50 409.30,705.20 409.54,706.86 409.79,708.55 410.07,710.27 410.36,712.00 410.68,713.72 411.03,715.42 411.40,717.09 411.80,718.70 412.26,720.29 412.80,721.89 413.38,723.47 413.98,725.03 414.57,726.52 415.12,727.95 415.61,729.28 416.00,730.50 416.31,731.57 416.57,732.49 416.78,733.31 416.94,734.06 417.06,734.79 417.14,735.52 417.19,736.32 417.20,737.20 417.18,738.20 417.12,739.28 417.02,740.41 416.88,741.56 416.71,742.68 416.50,743.76 416.27,744.74 416.00,745.60 415.72,746.34 415.42,747.00 415.11,747.59 414.75,748.12 414.34,748.59 413.88,749.02 413.33,749.42 412.70,749.80 411.95,750.17 411.08,750.52 410.13,750.84 409.11,751.12 408.07,751.35 407.04,751.49 406.04,751.55 405.10,751.50 404.20,751.31 403.28,750.99 402.37,750.56 401.48,750.07 400.62,749.54 399.81,749.01 399.06,748.52 398.40,748.10 397.81,747.72 397.28,747.33 396.80,746.95 396.38,746.59 396.01,746.25 395.69,745.95 395.42,745.70 395.20,745.50 395.30,746.01 395.43,746.71 395.59,747.54 395.77,748.46 395.96,749.41 396.14,750.35 396.33,751.23 396.50,752.00 396.65,752.69 396.78,753.35 396.90,753.98 397.03,754.58 397.17,755.16 397.34,755.70 397.55,756.22 397.80,756.70 398.10,757.15 398.45,757.56 398.83,757.93 399.24,758.28 399.67,758.61 400.11,758.91 400.56,759.21 401.00,759.50 401.45,759.78 401.93,760.03 402.43,760.27 402.92,760.50 403.42,760.71 403.91,760.92 404.37,761.11 404.80,761.30 405.21,761.47 405.61,761.62 406.01,761.76 406.38,761.89 406.73,762.02 407.06,762.16 407.35,762.32 407.60,762.50 407.79,762.70 407.92,762.90 408.00,763.12 408.06,763.34 408.11,763.59 408.19,763.86 408.31,764.16 408.50,764.50 408.77,764.91 409.11,765.39 409.50,765.93 409.91,766.48 410.31,767.01 410.67,767.50 410.98,767.90 411.20,768.20 411.43,767.94 411.72,767.64 412.07,767.27 412.47,766.85 412.89,766.37 413.33,765.81 413.77,765.19 414.20,764.50 414.61,763.69 415.01,762.73 415.42,761.68 415.84,760.58 416.29,759.47 416.78,758.39 417.31,757.39 417.90,756.50 418.56,755.71 419.29,754.96 420.07,754.25 420.89,753.59 421.72,752.99 422.56,752.43 423.39,751.94 424.20,751.50 424.93,751.14 425.57,750.85 426.18,750.63 426.81,750.46 427.50,750.32 428.31,750.21 429.30,750.11 430.50,750.00 431.95,749.89 433.60,749.79 435.41,749.71 437.34,749.64 439.36,749.61 441.42,749.60 443.48,749.63 445.50,749.70 447.55,749.83 449.70,750.00 451.91,750.23 454.13,750.48 456.32,750.74 458.44,751.01 460.45,751.27 462.30,751.50 464.05,751.73 465.78,751.97 467.44,752.22 469.00,752.46 470.43,752.69 471.70,752.90 472.77,753.07 473.60,753.20 473.60,692.60" fill="#ffb200"/>
<polygon points="408.10,918.00 408.18,917.01 408.29,915.71 408.40,914.16 408.54,912.43 408.70,910.60 408.88,908.73 409.08,906.89 409.30,905.15 409.54,903.46 409.79,901.73 410.07,899.98 410.36,898.21 410.68,896.46 411.03,894.72 411.40,893.02 411.80,891.38 412.26,889.75 412.80,888.13 413.38,886.51 413.98,884.93 414.57,883.40 415.12,881.94 415.61,880.59 416.00,879.34 416.31,878.25 416.57,877.31 416.78,876.47 416.94,875.71 417.06,874.97 417.14,874.22 417.19,873.41 417.20,872.51 417.18,871.49 417.12,870.39 417.02,869.23 416.88,868.06 416.71,866.92 416.50,865.82 416.27,864.82 416.00,863.94 415.72,863.18 415.42,862.51 415.11,861.91 414.75,861.37 414.34,860.89 413.88,860.45 413.33,860.04 412.70,859.66 411.95,859.28 411.08,858.92 410.13,858.59 409.11,858.30 408.07,858.08 407.04,857.93 406.04,857.87 405.10,857.92 404.20,858.11 403.28,858.44 402.37,858.88 401.48,859.38 400.62,859.92 399.81,860.46 399.06,860.96 398.40,861.39 397.81,861.78 397.28,862.17 396.80,862.56 396.38,862.93 396.01,863.28 395.69,863.58 395.42,863.84 395.20,864.04 395.30,863.52 395.43,862.81 395.59,861.96 395.77,861.03 395.96,860.06 396.14,859.10 396.33,858.20 396.50,857.41 396.65,856.71 396.78,856.04 396.90,855.39 397.03,854.78 397.17,854.19 397.34,853.64 397.55,853.11 397.80,852.62 398.10,852.16 398.45,851.74 398.83,851.36 399.24,851.01 399.67,850.67 400.11,850.36 400.56,850.06 401.00,849.76 401.45,849.48 401.93,849.22 402.43,848.97 402.92,848.74 403.42,848.52 403.91,848.32 404.37,848.12 404.80,847.93 405.21,847.75 405.61,847.60 406.01,847.46 406.38,847.33 406.73,847.19 407.06,847.05 407.35,846.89 407.60,846.70 407.79,846.50 407.92,846.29 408.00,846.07 408.06,845.84 408.11,845.59 408.19,845.31 408.31,845.01 408.50,844.66 408.77,844.25 409.11,843.75 409.50,843.21 409.91,842.65 410.31,842.10 410.67,841.61 410.98,841.19 411.20,840.89 411.43,841.15 411.72,841.46 412.07,841.83 412.47,842.26 412.89,842.76 413.33,843.32 413.77,843.95 414.20,844.66 414.61,845.49 415.01,846.47 415.42,847.54 415.84,848.66 416.29,849.79 416.78,850.89 417.31,851.92 417.90,852.82 418.56,853.63 419.29,854.40 420.07,855.12 420.89,855.79 421.72,856.41 422.56,856.97 423.39,857.48 424.20,857.92 424.93,858.29 425.57,858.58 426.18,858.81 426.81,858.99 427.50,859.12 428.31,859.24 429.30,859.34 430.50,859.45 431.95,859.56 433.60,859.66 435.41,859.75 437.34,859.82 439.36,859.85 441.42,859.86 443.48,859.83 445.50,859.76 447.55,859.63 449.70,859.45 451.91,859.22 454.13,858.97 456.32,858.70 458.44,858.42 460.45,858.16 462.30,857.92 464.05,857.69 465.78,857.44 467.44,857.19 469.00,856.94 470.43,856.71 471.70,856.50 472.77,856.32 473.60,856.19 473.60,918.00" fill="#ffb200"/>
<polygon points="427.00,692.60 427.13,693.72 427.29,695.23 427.48,697.02 427.69,699.01 427.93,701.09 428.18,703.17 428.44,705.13 428.70,706.90 428.96,708.51 429.21,710.09 429.47,711.62 429.74,713.12 430.04,714.58 430.38,715.99 430.76,717.37 431.20,718.70 431.69,720.00 432.21,721.26 432.78,722.49 433.38,723.67 434.02,724.81 434.71,725.89 435.43,726.93 436.20,727.90 437.01,728.82 437.86,729.69 438.75,730.50 439.68,731.27 440.65,731.98 441.66,732.64 442.71,733.25 443.80,733.80 444.93,734.29 446.11,734.72 447.33,735.10 448.59,735.42 449.88,735.70 451.20,735.93 452.54,736.13 453.90,736.30 455.32,736.42 456.82,736.49 458.37,736.51 459.94,736.49 461.49,736.45 462.98,736.39 464.40,736.34 465.70,736.30 466.93,736.26 468.13,736.20 469.30,736.13 470.39,736.05 471.39,735.97 472.27,735.90 473.02,735.84 473.60,735.80 473.60,692.60" fill="#ffff00"/>
<polygon points="427.00,918.00 427.13,916.86 427.29,915.32 427.48,913.49 427.69,911.46 427.93,909.34 428.18,907.22 428.44,905.21 428.70,903.41 428.96,901.77 429.21,900.16 429.47,898.60 429.74,897.07 430.04,895.59 430.38,894.14 430.76,892.74 431.20,891.38 431.69,890.06 432.21,888.77 432.78,887.52 433.38,886.31 434.02,885.15 434.71,884.04 435.43,882.99 436.20,881.99 437.01,881.06 437.86,880.17 438.75,879.34 439.68,878.56 440.65,877.83 441.66,877.16 442.71,876.54 443.80,875.98 444.93,875.47 446.11,875.03 447.33,874.65 448.59,874.32 449.88,874.04 451.20,873.80 452.54,873.60 453.90,873.43 455.32,873.30 456.82,873.23 458.37,873.22 459.94,873.23 461.49,873.28 462.98,873.33 464.40,873.38 465.70,873.43 466.93,873.47 468.13,873.53 469.30,873.60 470.39,873.68 471.39,873.76 472.27,873.83 473.02,873.89 473.60,873.94 473.60,918.00" fill="#ffff00"/>
<polygon points="435.40,692.60 435.51,693.44 435.65,694.56 435.80,695.88 435.99,697.36 436.20,698.93 436.46,700.51 436.76,702.06 437.10,703.50 437.48,704.89 437.89,706.30 438.34,707.73 438.83,709.16 439.37,710.56 439.95,711.93 440.60,713.25 441.30,714.50 442.07,715.70 442.90,716.88 443.79,718.03 444.73,719.12 445.72,720.17 446.74,721.16 447.81,722.07 448.90,722.90 450.01,723.65 451.14,724.33 452.31,724.93 453.51,725.47 454.77,725.96 456.10,726.39 457.51,726.77 459.00,727.10 460.71,727.37 462.68,727.56 464.79,727.68 466.93,727.76 469.00,727.81 470.87,727.84 472.44,727.86 473.60,727.90 473.60,692.60" fill="#b2ff00"/>
<polygon points="435.40,918.00 435.51,917.14 435.65,916.00 435.80,914.65 435.99,913.14 436.20,911.55 436.46,909.93 436.76,908.35 437.10,906.88 437.48,905.47 437.89,904.02 438.34,902.57 438.83,901.11 439.37,899.68 439.95,898.28 440.60,896.94 441.30,895.66 442.07,894.43 442.90,893.23 443.79,892.07 444.73,890.94 445.72,889.88 446.74,888.87 447.81,887.94 448.90,887.09 450.01,886.33 451.14,885.64 452.31,885.02 453.51,884.47 454.77,883.97 456.10,883.54 457.51,883.15 459.00,882.81 460.71,882.54 462.68,882.34 464.79,882.21 466.93,882.13 469.00,882.09 470.87,882.06 472.44,882.03 473.60,881.99 473.60,918.00" fill="#b2ff00"/>
<polygon points="442.60,692.60 442.74,693.31 442.91,694.25 443.11,695.37 443.34,696.62 443.61,697.94 443.92,699.28 444.28,700.58 444.70,701.80 445.17,702.98 445.69,704.18 446.25,705.39 446.86,706.61 447.51,707.80 448.20,708.96 448.93,710.06 449.70,711.10 450.52,712.09 451.40,713.05 452.32,713.97 453.29,714.85 454.28,715.68 455.28,716.45 456.29,717.16 457.30,717.80 458.32,718.36 459.36,718.85 460.41,719.27 461.48,719.64 462.55,719.96 463.62,720.23 464.67,720.48 465.70,720.70 466.77,720.88 467.90,721.01 469.05,721.09 470.17,721.13 471.24,721.15 472.19,721.17 472.99,721.18 473.60,721.20 473.60,692.60" fill="#00ff00"/>
<polygon points="442.60,918.00 442.74,917.28 442.91,916.32 443.11,915.17 443.34,913.90 443.61,912.55 443.92,911.19 444.28,909.86 444.70,908.62 445.17,907.42 445.69,906.19 446.25,904.95 446.86,903.71 447.51,902.50 448.20,901.32 448.93,900.19 449.70,899.13 450.52,898.12 451.40,897.14 452.32,896.20 453.29,895.30 454.28,894.46 455.28,893.67 456.29,892.95 457.30,892.30 458.32,891.72 459.36,891.23 460.41,890.80 461.48,890.42 462.55,890.10 463.62,889.81 464.67,889.56 465.70,889.34 466.77,889.15 467.90,889.03 469.05,888.95 470.17,888.90 471.24,888.87 472.19,888.86 472.99,888.85 473.60,888.83 473.60,918.00" fill="#00ff00"/>
<polygon points="448.90,692.60 449.08,693.25 449.29,694.13 449.54,695.17 449.84,696.33 450.17,697.54 450.54,698.76 450.95,699.93 451.40,701.00 451.89,702.01 452.41,703.02 452.98,704.04 453.58,705.03 454.22,706.00 454.91,706.92 455.63,707.79 456.40,708.60 457.21,709.35 458.07,710.05 458.97,710.71 459.91,711.32 460.89,711.88 461.90,712.40 462.94,712.88 464.00,713.30 465.17,713.67 466.48,713.98 467.88,714.23 469.27,714.44 470.62,714.62 471.83,714.76 472.85,714.89 473.60,715.00 473.60,692.60" fill="#00ffb2"/>
<polygon points="448.90,918.00 449.08,917.33 449.29,916.44 449.54,915.38 449.84,914.20 450.17,912.96 450.54,911.72 450.95,910.52 451.40,909.43 451.89,908.40 452.41,907.37 452.98,906.34 453.58,905.32 454.22,904.33 454.91,903.39 455.63,902.50 456.40,901.68 457.21,900.92 458.07,900.20 458.97,899.53 459.91,898.91 460.89,898.33 461.90,897.80 462.94,897.32 464.00,896.89 465.17,896.51 466.48,896.20 467.88,895.94 469.27,895.72 470.62,895.54 471.83,895.39 472.85,895.26 473.60,895.15 473.60,918.00" fill="#00ffb2"/>
<polygon points="455.30,692.60 455.46,693.12 455.66,693.83 455.89,694.67 456.16,695.60 456.46,696.57 456.80,697.55 457.18,698.47 457.60,699.30 458.06,700.07 458.56,700.84 459.09,701.60 459.67,702.34 460.28,703.05 460.92,703.72 461.60,704.34 462.30,704.90 463.07,705.40 463.91,705.84 464.80,706.24 465.71,706.59 466.63,706.91 467.51,707.20 468.35,707.46 469.10,707.70 469.80,707.91 470.49,708.08 471.15,708.22 471.78,708.33 472.34,708.41 472.85,708.48 473.27,708.54 473.60,708.60 473.60,692.60" fill="#00ffff"/>
<polygon points="455.30,918.00 455.46,917.47 455.66,916.75 455.89,915.89 456.16,914.94 456.46,913.95 456.80,912.96 457.18,912.01 457.60,911.17 458.06,910.38 458.56,909.59 459.09,908.82 459.67,908.06 460.28,907.34 460.92,906.65 461.60,906.02 462.30,905.45 463.07,904.95 463.91,904.49 464.80,904.09 465.71,903.73 466.63,903.40 467.51,903.11 468.35,902.84 469.10,902.60 469.80,902.38 470.49,902.21 471.15,902.07 471.78,901.96 472.34,901.87 472.85,901.80 473.27,901.74 473.60,901.68 473.60,918.00" fill="#00ffff"/>
<polygon points="462.30,692.60 462.41,692.93 462.55,693.37 462.70,693.90 462.89,694.49 463.10,695.10 463.36,695.71 463.66,696.28 464.00,696.80 464.40,697.28 464.85,697.75 465.34,698.21 465.87,698.66 466.43,699.09 467.01,699.50 467.60,699.87 468.20,700.20 468.85,700.50 469.59,700.76 470.37,701.00 471.16,701.21 471.92,701.40 472.60,701.55 473.18,701.69 473.60,701.80 473.60,692.60" fill="#00b2ff"/>
<polygon points="462.30,918.00 462.41,917.66 462.55,917.21 462.70,916.67 462.89,916.07 463.10,915.45 463.36,914.83 463.66,914.24 464.00,913.72 464.40,913.23 464.85,912.75 465.34,912.28 465.87,911.82 466.43,911.38 467.01,910.97 467.60,910.59 468.20,910.25 468.85,909.94 469.59,909.67 470.37,909.43 471.16,909.22 471.92,909.03 472.60,908.87 473.18,908.73 473.60,908.62 473.60,918.00" fill="#00b2ff"/>
<polygon points="471.60,692.60 473.60,694.30 473.60,692.60" fill="#0000ff"/>
<polygon points="471.60,918.00 473.60,916.27 473.60,918.00" fill="#0000ff"/>
<polygon points="406.20,760.20 408.40,762.60 406.40,762.40" fill="#ffff00"/>
<polygon points="406.20,849.05 408.40,846.60 406.40,846.80" fill="#ffff00"/>
<rect x="2" y="759.07" width="346" height="91.13" fill="#00ffff"/>
<polygon points="321.00,774.40 332.40,774.40 332.40,804.84 312.00,804.84 312.00,787.00 314.50,781.00" fill="#00ffb2"/>
<polygon points="321.00,834.87 332.40,834.87 332.40,804.43 312.00,804.43 312.00,822.27 314.50,828.27" fill="#00ffb2"/>
<rect x="332.4" y="779" width="15.6" height="51.27" fill="#0000ff"/>
<polygon points="337.60,759.50 348.00,759.50 348.00,777.30 345.00,779.00 341.80,780.30 336.00,782.00 333.00,783.60 332.40,779.00 334.30,776.00 337.60,771.80 342.30,764.30" fill="#00b2ff"/>
<polygon points="337.60,849.77 348.00,849.77 348.00,831.97 345.00,830.27 341.80,828.97 336.00,827.27 333.00,825.67 332.40,830.27 334.30,833.27 337.60,837.47 342.30,844.97" fill="#00b2ff"/>
<polygon points="348,759.5 349.4,759.5 353.6,762.4 353.6,848 349.4,850.2 348,850.2" fill="#0000ff"/>
<rect x="353.4" y="762.4" width="54.1" height="85.6" fill="#0000ff"/>
<polygon points="352.00,762.20 352.03,762.01 352.06,761.75 352.08,761.44 352.12,761.09 352.19,760.74 352.28,760.39 352.42,760.07 352.60,759.80 352.84,759.55 353.15,759.29 353.49,759.04 353.86,758.81 354.25,758.60 354.65,758.44 355.03,758.34 355.40,758.30 355.76,758.34 356.15,758.44 356.54,758.60 356.92,758.81 357.30,759.04 357.64,759.29 357.95,759.55 358.20,759.80 358.40,760.07 358.56,760.39 358.68,760.74 358.78,761.09 358.85,761.44 358.90,761.75 358.95,762.01 359.00,762.20" fill="#ffb200"/>
<polygon points="352.00,847.07 352.03,847.26 352.06,847.52 352.08,847.83 352.12,848.18 352.19,848.53 352.28,848.88 352.42,849.20 352.60,849.47 352.84,849.72 353.15,849.98 353.49,850.23 353.86,850.46 354.25,850.67 354.65,850.83 355.03,850.93 355.40,850.97 355.76,850.93 356.15,850.83 356.54,850.67 356.92,850.46 357.30,850.23 357.64,849.98 357.95,849.72 358.20,849.47 358.40,849.20 358.56,848.88 358.68,848.53 358.78,848.18 358.85,847.83 358.90,847.52 358.95,847.26 359.00,847.07" fill="#ffb200"/>
<path d="M2 759.07H348M2 850.20H348" stroke="#ffffff" stroke-width="1" fill="none" stroke-opacity="0.9"/>
<path d="M2 774.40H332.4V835.50H2" stroke="#ffffff" stroke-width="1" fill="none" stroke-opacity="0.8"/>
<path d="M347.9 759.07V850.20" stroke="#ffffff" stroke-width="1" fill="none" stroke-opacity="0.6" stroke-dasharray="6 1"/>
<path d="M352.8 760.5V850" stroke="#ffffff" stroke-width="1" fill="none" stroke-opacity="0.7" stroke-dasharray="5 1.5"/>
<path d="M353.5 762.4H407.5" stroke="#ffffff" stroke-width="1" fill="none" stroke-opacity="0.9" stroke-dasharray="7 1.2"/>
<path d="M407.5 762.4V848H358" stroke="#ffffff" stroke-width="1" fill="none" stroke-opacity="0.9"/>
<text x="347.6" y="848.3" font-family="Liberation Sans, sans-serif" font-size="7.6" fill="#fff" textLength="10" lengthAdjust="spacingAndGlyphs">MX</text>
<text x="83.60" y="718.40" font-family="Liberation Mono, monospace" font-size="9" textLength="38.70" lengthAdjust="spacingAndGlyphs" fill="#d02c44" stroke="#d02c44" stroke-width="0.2">.449556</text>
<rect x="81.00" y="723.30" width="5" height="5" fill="none" stroke="#e020e0" stroke-width="1.1"/>
<text x="165.20" y="724.40" font-family="Liberation Mono, monospace" font-size="9" textLength="39.00" lengthAdjust="spacingAndGlyphs" fill="#5040a0" stroke="#5040a0" stroke-width="0.2">.804805</text>
<rect x="163.50" y="728.80" width="5" height="5" fill="none" stroke="#c04000" stroke-width="1.1"/>
<text x="231.70" y="724.40" font-family="Liberation Mono, monospace" font-size="9" textLength="27.30" lengthAdjust="spacingAndGlyphs" fill="#4030b0" stroke="#4030b0" stroke-width="0.2">1.072</text>
<rect x="229.50" y="728.80" width="5" height="5" fill="none" stroke="#101000" stroke-width="1.1"/>
<text x="353.20" y="719.00" font-family="Liberation Mono, monospace" font-size="9" textLength="26.80" lengthAdjust="spacingAndGlyphs" fill="#60dada" stroke="#60dada" stroke-width="0.2">1.468</text>
<rect x="350.50" y="723.30" width="5" height="5" fill="none" stroke="#20e020" stroke-width="1.1"/>
<text x="440.50" y="798.00" font-family="Liberation Mono, monospace" font-size="9" textLength="27.10" lengthAdjust="spacingAndGlyphs" fill="#60dada" stroke="#60dada" stroke-width="0.2">1.386</text>
<rect x="437.80" y="803.00" width="5" height="5" fill="none" stroke="#58b828" stroke-width="1.1"/>
<text x="353.10" y="883.00" font-family="Liberation Mono, monospace" font-size="9" textLength="27.20" lengthAdjust="spacingAndGlyphs" fill="#60dada" stroke="#60dada" stroke-width="0.2">1.467</text>
<rect x="350.60" y="887.30" width="5" height="5" fill="none" stroke="#20e020" stroke-width="1.1"/>
<text x="288.30" y="833.00" font-family="Liberation Mono, monospace" font-size="9" textLength="39.00" lengthAdjust="spacingAndGlyphs" fill="#d02c44" stroke="#d02c44" stroke-width="0.2">.393725</text>
<rect x="286.80" y="838.20" width="5" height="5" fill="none" stroke="#b040e0" stroke-width="1.1"/>
<text x="16.50" y="833.50" font-family="Liberation Mono, monospace" font-size="9" textLength="39.10" lengthAdjust="spacingAndGlyphs" fill="#d02c44" stroke="#d02c44" stroke-width="0.2">.364255</text>
<rect x="15.20" y="838.20" width="5" height="5" fill="none" stroke="#d030e0" stroke-width="1.1"/>
<text x="94.80" y="833.50" font-family="Liberation Mono, monospace" font-size="9" textLength="40.60" lengthAdjust="spacingAndGlyphs" fill="#d02c44" stroke="#d02c44" stroke-width="0.2">.367098</text>
<rect x="94.50" y="838.20" width="5" height="5" fill="none" stroke="#d030e0" stroke-width="1.1"/>
<text x="193.20" y="833.50" font-family="Liberation Mono, monospace" font-size="9" textLength="39.10" lengthAdjust="spacingAndGlyphs" fill="#d02c44" stroke="#d02c44" stroke-width="0.2">.375726</text>
<rect x="190.50" y="838.20" width="5" height="5" fill="none" stroke="#d030e0" stroke-width="1.1"/>
</g>
<text x="63.60" y="216.00" font-family="Liberation Serif, serif" stroke="#000" stroke-width="0.2" font-size="13.36" textLength="347.40" lengthAdjust="spacingAndGlyphs" fill="#000">(a) Convergence history of the improved DE for design variables</text>
<text x="49.00" y="441.70" font-family="Liberation Serif, serif" stroke="#000" stroke-width="0.2" font-size="13.36" textLength="377.00" lengthAdjust="spacingAndGlyphs" fill="#000">(b) Convergence history of the original DE and improved DE for mass</text>
<text x="11.00" y="671.50" font-family="Liberation Serif, serif" stroke="#000" stroke-width="0.2" font-size="13.36" textLength="428.50" lengthAdjust="spacingAndGlyphs" fill="#000">(c) Convergence history of the original DE and improved DE for braking torque</text>
<text x="84.00" y="942.00" font-family="Liberation Serif, serif" stroke="#000" stroke-width="0.2" font-size="15.30" textLength="330.00" lengthAdjust="spacingAndGlyphs" fill="#000">(d) Magnetic flux density of the brake at the optimum</text>
</svg></body></html>
